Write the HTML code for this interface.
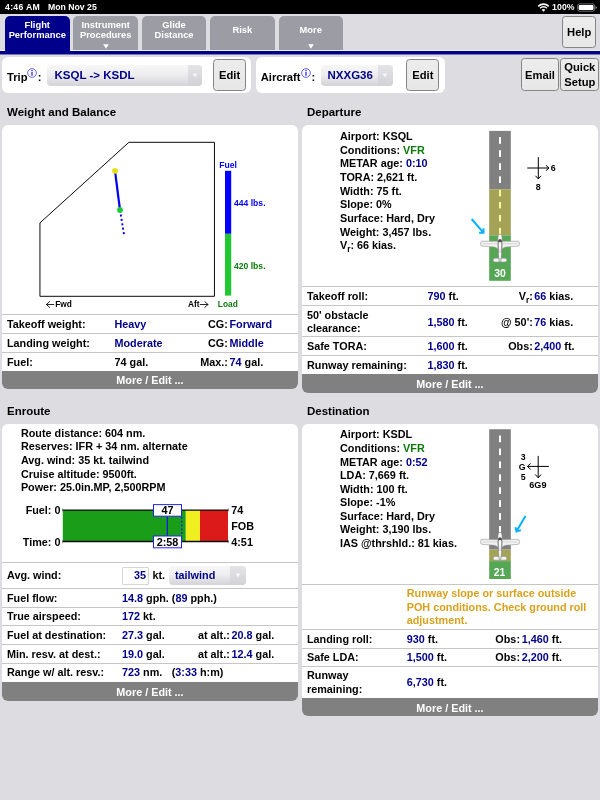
<!DOCTYPE html>
<html><head><meta charset="utf-8"><title>Flight Performance</title>
<style>
*{box-sizing:border-box;margin:0;padding:0}
html,body{width:600px;height:800px;overflow:hidden}
body{background:#dcdce1;font-family:"Liberation Sans",sans-serif;font-weight:bold;position:relative}
#app{position:absolute;left:0;top:0;width:600px;height:800px;will-change:transform}
.a{position:absolute}
.t{position:absolute;white-space:nowrap}
sub{font-size:76%;vertical-align:baseline;position:relative;top:2.6px}
svg{overflow:visible}
</style></head><body><div id="app">
<svg class="a" style="left:0;top:0" width="600" height="60"><rect x="0" y="0" width="600" height="14" fill="#000"/><rect x="0" y="51" width="600" height="3.450" fill="#00008b"/></svg>
<div class="t" style="top:1px;font-size:8.7px;line-height:12px;color:#fff;left:5px;letter-spacing:0.3px">4:46 AM</div>
<div class="t" style="top:1px;font-size:8.7px;line-height:12px;color:#fff;left:48px;">Mon Nov 25</div>
<div class="t" style="top:1px;font-size:8.7px;line-height:12px;color:#fff;left:552px;letter-spacing:0.12px">100%</div>
<svg class="a" style="left:536px;top:0" width="64" height="14" viewBox="536 0 64 14">
<clipPath id="wf"><path d="M543.500 11.700L535 3L552 3Z"/></clipPath>
<g clip-path="url(#wf)" fill="none" stroke="#fff"><circle cx="543.500" cy="11.200" r="7.100" stroke-width="1.600"/><circle cx="543.500" cy="11.200" r="4.450" stroke-width="1.450"/><circle cx="543.500" cy="11.200" r="2.200" fill="#fff" stroke="none"/></g>
<rect x="577.6" y="3.9" width="17" height="7.3" rx="2" fill="none" stroke="#9a9a9a" stroke-width="0.7"/>
<rect x="578.7" y="5" width="14.8" height="5.1" rx="1" fill="#fff"/>
<path d="M595.5 6.2 q1.4 .2 1.4 1.35 q0 1.15 -1.4 1.35z" fill="#9a9a9a"/>
</svg>
<div class="a" style="left:5.0px;top:16px;width:64.5px;height:35px;background:#00008b;border-radius:5px 5px 0 0"></div>
<div class="t" style="top:19px;font-size:9.375px;line-height:13px;color:#fff;left:-62.75px;width:200px;text-align:center;">Flight</div>
<div class="t" style="top:29px;font-size:9.375px;line-height:13px;color:#fff;left:-62.75px;width:200px;text-align:center;">Performance</div>
<div class="a" style="left:73.4px;top:16px;width:64.5px;height:34px;background:#9c9ca4;border-radius:5px 5px 0 0"></div>
<div class="t" style="top:19px;font-size:9.375px;line-height:13px;color:#fff;left:5.650000000000006px;width:200px;text-align:center;">Instrument</div>
<div class="t" style="top:29px;font-size:9.375px;line-height:13px;color:#fff;left:5.650000000000006px;width:200px;text-align:center;">Procedures</div>
<svg class="a" style="left:101.65px;top:43px" width="8" height="7"><path d="M1.2 1.2h5.6L4 5.8z" fill="#fff"/></svg>
<div class="a" style="left:141.8px;top:16px;width:64.5px;height:34px;background:#9c9ca4;border-radius:5px 5px 0 0"></div>
<div class="t" style="top:19px;font-size:9.375px;line-height:13px;color:#fff;left:74.05000000000001px;width:200px;text-align:center;">Glide</div>
<div class="t" style="top:29px;font-size:9.375px;line-height:13px;color:#fff;left:74.05000000000001px;width:200px;text-align:center;">Distance</div>
<div class="a" style="left:210.1px;top:16px;width:64.5px;height:34px;background:#9c9ca4;border-radius:5px 5px 0 0"></div>
<div class="t" style="top:24px;font-size:9.375px;line-height:13px;color:#fff;left:142.35px;width:200px;text-align:center;">Risk</div>
<div class="a" style="left:278.5px;top:16px;width:64.5px;height:34px;background:#9c9ca4;border-radius:5px 5px 0 0"></div>
<div class="t" style="top:24px;font-size:9.375px;line-height:13px;color:#fff;left:210.75px;width:200px;text-align:center;">More</div>
<svg class="a" style="left:306.75px;top:43px" width="8" height="7"><path d="M1.2 1.2h5.6L4 5.8z" fill="#fff"/></svg>
<div class="a" style="left:0px;top:50px;width:5px;height:1px;background:#f0f0ea"></div>
<div class="a" style="left:69.5px;top:50px;width:530.5px;height:1px;background:#f0f0ea"></div>
<div class="a" style="left:562px;top:16px;width:34px;height:32px;background:linear-gradient(#ececec,#e7e7e7);border:1px solid #848484;border-radius:3.5px"></div>
<div class="t" style="top:25px;font-size:11.2px;line-height:15px;color:#000;left:479.20000000000005px;width:200px;text-align:center;">Help</div>
<div class="a" style="left:2px;top:57px;width:249px;height:36px;background:#fff;border-radius:6px"></div>
<div class="a" style="left:256px;top:57px;width:189px;height:36px;background:#fff;border-radius:6px"></div>
<div class="t" style="top:70px;font-size:11.2px;line-height:15px;color:#000;left:7px;">Trip</div>
<div class="t" style="top:70px;font-size:11.2px;line-height:15px;color:#000;left:37.8px;">:</div>
<div class="t" style="top:70px;font-size:11.2px;line-height:15px;color:#000;left:260.75px;">Aircraft</div>
<div class="t" style="top:70px;font-size:11.2px;line-height:15px;color:#000;left:311.5px;">:</div>
<svg class="a" style="left:26.299999999999997px;top:67.2px" width="12" height="12" viewBox="-6 -6 12 12"><circle r="4.35" fill="#fff" stroke="#4848ff" stroke-width="0.85"/><circle cx="0" cy="-2.6" r="0.75" fill="#2a2aff"/><rect x="-0.65" y="-1.2" width="1.3" height="3.9" fill="#2a2aff"/></svg>
<svg class="a" style="left:300.1px;top:67.2px" width="12" height="12" viewBox="-6 -6 12 12"><circle r="4.35" fill="#fff" stroke="#4848ff" stroke-width="0.85"/><circle cx="0" cy="-2.6" r="0.75" fill="#2a2aff"/><rect x="-0.65" y="-1.2" width="1.3" height="3.9" fill="#2a2aff"/></svg>
<div class="a" style="left:47.4px;top:65px;width:154.4px;height:20.5px;background:linear-gradient(#f7f7f8,#eeeef0 45%,#d4d4d8);border-radius:4px"></div>
<div class="a" style="left:187.5px;top:65px;width:14.300000000000011px;height:20.5px;background:linear-gradient(#e4e4e7,#d2d2d6);border-radius:0 4px 4px 0"></div>
<svg class="a" style="left:190.65px;top:72.05px" width="8" height="7"><path d="M1.400 1.600h5.200L4 5.600z" fill="#f6f6f8"/></svg>
<div class="t" style="top:68px;font-size:11.5px;line-height:15px;color:#00008b;left:54.5px;">KSQL -&gt; KSDL</div>
<div class="a" style="left:321px;top:65px;width:71.5px;height:20.5px;background:linear-gradient(#f7f7f8,#eeeef0 45%,#d4d4d8);border-radius:4px"></div>
<div class="a" style="left:378px;top:65px;width:14.5px;height:20.5px;background:linear-gradient(#e4e4e7,#d2d2d6);border-radius:0 4px 4px 0"></div>
<svg class="a" style="left:381.25px;top:72.05px" width="8" height="7"><path d="M1.400 1.600h5.200L4 5.600z" fill="#f6f6f8"/></svg>
<div class="t" style="top:68px;font-size:11.5px;line-height:15px;color:#00008b;left:327.5px;">NXXG36</div>
<div class="a" style="left:213px;top:59px;width:33px;height:32px;background:linear-gradient(#ececec,#e7e7e7);border:1px solid #848484;border-radius:3.5px"></div>
<div class="t" style="top:68px;font-size:11.2px;line-height:15px;color:#000;left:129.6px;width:200px;text-align:center;">Edit</div>
<div class="a" style="left:406px;top:59px;width:33px;height:32px;background:linear-gradient(#ececec,#e7e7e7);border:1px solid #848484;border-radius:3.5px"></div>
<div class="t" style="top:68px;font-size:11.2px;line-height:15px;color:#000;left:322.9px;width:200px;text-align:center;">Edit</div>
<div class="a" style="left:521px;top:58px;width:38px;height:33px;background:linear-gradient(#ececec,#e7e7e7);border:1px solid #848484;border-radius:3.5px"></div>
<div class="t" style="top:68px;font-size:11.2px;line-height:15px;color:#000;left:440px;width:200px;text-align:center;">Email</div>
<div class="a" style="left:560px;top:58px;width:39px;height:33px;background:linear-gradient(#ececec,#e7e7e7);border:1px solid #848484;border-radius:3.5px"></div>
<div class="t" style="top:60px;font-size:11.2px;line-height:15px;color:#000;left:479.79999999999995px;width:200px;text-align:center;">Quick</div>
<div class="t" style="top:75px;font-size:11.2px;line-height:15px;color:#000;left:479.79999999999995px;width:200px;text-align:center;">Setup</div>
<div class="t" style="top:105px;font-size:11.5px;line-height:15px;color:#000;left:7px;">Weight and Balance</div>
<div class="a" style="left:2px;top:125px;width:296px;height:264px;background:#fff;border-radius:6px"></div>
<svg class="a" style="left:0;top:120px" width="300" height="200" viewBox="0 120 300 200">
<path d="M39.950 222.900 L128.900 142.300 L214.450 142.300 L214.450 296.300 L39.950 296.300 Z" fill="none" stroke="#0a0a0a" stroke-width="1" stroke-linejoin="miter"/>
<line x1="115" y1="170.8" x2="120" y2="210" stroke="#0000f0" stroke-width="2.2"/>
<line x1="120.750" y1="214.500" x2="124.050" y2="234.600" stroke="#0000f0" stroke-width="1.9" stroke-dasharray="2 2.45"/>
<circle cx="115" cy="170.8" r="2.9" fill="#e6e010"/>
<circle cx="120" cy="210" r="2.9" fill="#22c83a"/>
<rect x="225" y="170.8" width="6.2" height="63" fill="#0000ff"/>
<rect x="225" y="233.8" width="6.2" height="61.8" fill="#22c832"/>
</svg>
<div class="t" style="top:159px;font-size:8.6px;line-height:12px;color:#0000ff;left:219.3px;">Fuel</div>
<div class="t" style="top:197px;font-size:8.6px;line-height:12px;color:#0000ff;left:234px;">444 lbs.</div>
<div class="t" style="top:260px;font-size:8.6px;line-height:12px;color:#0b7a0b;left:234px;">420 lbs.</div>
<div class="t" style="top:299px;font-size:8.4px;line-height:11px;color:#0b7a0b;left:217.8px;">Load</div>
<div class="t" style="top:299px;font-size:8.3px;line-height:11px;color:#000;left:55.3px;">Fwd</div>
<div class="t" style="top:299px;font-size:8.3px;line-height:11px;color:#000;left:188px;">Aft</div>
<svg class="a" style="left:40px;top:298px" width="180" height="14" viewBox="40 298 180 14"><g fill="none" stroke="#111" stroke-width="0.9" stroke-linecap="round" stroke-linejoin="round"><path d="M46.4 304.500H53.800M49.600 301.600L46.400 304.500L49.600 307.400"/><path d="M200.200 304.500H208M204.800 301.600L208 304.500L204.800 307.400"/></g></svg>
<div class="a" style="left:2px;top:314px;width:296px;height:1px;background:#c6c6c6"></div>
<div class="a" style="left:2px;top:333px;width:296px;height:1px;background:#c6c6c6"></div>
<div class="a" style="left:2px;top:352px;width:296px;height:1px;background:#c6c6c6"></div>
<div class="t" style="top:317px;font-size:10.82px;line-height:15px;color:#000;left:7px;">Takeoff weight:</div>
<div class="t" style="top:317px;font-size:10.82px;line-height:15px;color:#00008b;left:114.5px;">Heavy</div>
<div class="t" style="top:317px;font-size:10.82px;line-height:15px;color:#000;right:372.20px;">CG:</div>
<div class="t" style="top:317px;font-size:10.82px;line-height:15px;color:#00008b;left:229.5px;">Forward</div>
<div class="t" style="top:336px;font-size:10.82px;line-height:15px;color:#000;left:7px;">Landing weight:</div>
<div class="t" style="top:336px;font-size:10.82px;line-height:15px;color:#00008b;left:114.5px;">Moderate</div>
<div class="t" style="top:336px;font-size:10.82px;line-height:15px;color:#000;right:372.20px;">CG:</div>
<div class="t" style="top:336px;font-size:10.82px;line-height:15px;color:#00008b;left:229.5px;">Middle</div>
<div class="t" style="top:355px;font-size:10.82px;line-height:15px;color:#000;left:7px;">Fuel:</div>
<div class="t" style="top:355px;font-size:10.82px;line-height:15px;color:#000;left:114.5px;">74 gal.</div>
<div class="t" style="top:355px;font-size:10.82px;line-height:15px;color:#000;right:372.20px;">Max.:</div>
<div class="t" style="top:355px;font-size:10.82px;line-height:15px;color:#000;left:229.5px;"><span style="color:#00008b">74</span> gal.</div>
<div class="a" style="left:2px;top:371px;width:296px;height:18px;background:#808080;border-radius:0 0 6px 6px"></div>
<div class="t" style="top:373px;font-size:10.82px;line-height:15px;color:#fff;left:50.0px;width:200px;text-align:center;">More / Edit ...</div>
<div class="t" style="top:105px;font-size:11.5px;line-height:15px;color:#000;left:307px;">Departure</div>
<div class="a" style="left:302px;top:125px;width:296px;height:268px;background:#fff;border-radius:6px"></div>
<div class="t" style="top:129px;font-size:10.82px;line-height:15px;color:#000;left:340px;">Airport: KSQL</div>
<div class="t" style="top:143px;font-size:10.82px;line-height:15px;color:#000;left:340px;">Conditions: <span style="color:#0b7a0b">VFR</span></div>
<div class="t" style="top:156px;font-size:10.82px;line-height:15px;color:#000;left:340px;">METAR age: <span style="color:#00008b">0:10</span></div>
<div class="t" style="top:170px;font-size:10.82px;line-height:15px;color:#000;left:340px;">TORA: 2,621 ft.</div>
<div class="t" style="top:184px;font-size:10.82px;line-height:15px;color:#000;left:340px;">Width: 75 ft.</div>
<div class="t" style="top:197px;font-size:10.82px;line-height:15px;color:#000;left:340px;">Slope: 0%</div>
<div class="t" style="top:211px;font-size:10.82px;line-height:15px;color:#000;left:340px;">Surface: Hard, Dry</div>
<div class="t" style="top:225px;font-size:10.82px;line-height:15px;color:#000;left:340px;">Weight: 3,457 lbs.</div>
<div class="t" style="top:238px;font-size:10.82px;line-height:15px;color:#000;left:340px;">V<sub>r</sub>: 66 kias.</div>
<div class="a" style="left:302px;top:286px;width:296px;height:1px;background:#c6c6c6"></div>
<div class="a" style="left:302px;top:305px;width:296px;height:1px;background:#c6c6c6"></div>
<div class="a" style="left:302px;top:336px;width:296px;height:1px;background:#c6c6c6"></div>
<div class="a" style="left:302px;top:355px;width:296px;height:1px;background:#c6c6c6"></div>
<div class="t" style="top:289px;font-size:10.82px;line-height:15px;color:#000;left:307px;">Takeoff roll:</div>
<div class="t" style="top:289px;font-size:10.82px;line-height:15px;color:#000;left:427.5px;"><span style="color:#00008b">790</span> ft.</div>
<div class="t" style="top:289px;font-size:10.82px;line-height:15px;color:#000;right:67.20px;">V<sub>r</sub>:</div>
<div class="t" style="top:289px;font-size:10.82px;line-height:15px;color:#000;left:534.25px;"><span style="color:#00008b">66</span> kias.</div>
<div class="t" style="top:308px;font-size:10.82px;line-height:15px;color:#000;left:307px;">50' obstacle</div>
<div class="t" style="top:321px;font-size:10.82px;line-height:15px;color:#000;left:307px;">clearance:</div>
<div class="t" style="top:315px;font-size:10.82px;line-height:15px;color:#000;left:427.5px;"><span style="color:#00008b">1,580</span> ft.</div>
<div class="t" style="top:315px;font-size:10.82px;line-height:15px;color:#000;right:67.20px;">@ 50':</div>
<div class="t" style="top:315px;font-size:10.82px;line-height:15px;color:#000;left:534.25px;"><span style="color:#00008b">76</span> kias.</div>
<div class="t" style="top:339px;font-size:10.82px;line-height:15px;color:#000;left:307px;">Safe TORA:</div>
<div class="t" style="top:339px;font-size:10.82px;line-height:15px;color:#000;left:427.5px;"><span style="color:#00008b">1,600</span> ft.</div>
<div class="t" style="top:339px;font-size:10.82px;line-height:15px;color:#000;right:67.20px;">Obs:</div>
<div class="t" style="top:339px;font-size:10.82px;line-height:15px;color:#000;left:534.25px;"><span style="color:#00008b">2,400</span> ft.</div>
<div class="t" style="top:358px;font-size:10.82px;line-height:15px;color:#000;left:307px;">Runway remaining:</div>
<div class="t" style="top:358px;font-size:10.82px;line-height:15px;color:#000;left:427.5px;"><span style="color:#00008b">1,830</span> ft.</div>
<div class="a" style="left:302px;top:374px;width:296px;height:19px;background:#808080;border-radius:0 0 6px 6px"></div>
<div class="t" style="top:377px;font-size:10.82px;line-height:15px;color:#fff;left:350.0px;width:200px;text-align:center;">More / Edit ...</div>
<svg width="0" height="0" style="position:absolute"><defs>
<g id="plane">
<path d="M-18.200 7.400H18.200Q19.300 7.400 19.300 8.600V11Q19.300 12.200 18 12.300L6 13.300Q3.500 13.700 2.200 15.100H-2.200Q-3.500 13.700 -6 13.300L-18 12.300Q-19.300 12.200 -19.300 11V8.600Q-19.300 7.400 -18.200 7.400Z" fill="#f1f1f1" stroke="#8e8e8e" stroke-width=".55"/>
<path d="M-17.500 9.800H17.500" stroke="#dcdcdc" stroke-width="1.2"/>
<rect x="-6.800" y="24.400" width="13.600" height="3.800" rx="1.700" fill="#f3f3f3" stroke="#8e8e8e" stroke-width=".55"/>
<path d="M0 0.200C1.400 0.200 2.100 2 2.150 5L2.150 13L0.900 27.600Q0 28.400 -0.900 27.600L-2.150 13L-2.150 5C-2.100 2 -1.400 0.200 0 0.200Z" fill="#f8f8f8" stroke="#7a7a7a" stroke-width=".55"/>
<path d="M-2 7.900Q-2.100 5.300 0 5.300Q2.100 5.300 2 7.900L1.900 9Q0 7.200 -1.900 9Z" fill="#4c4c4c"/>
<path d="M-1.750 9L-1.150 19M1.750 9L1.150 19" stroke="#6a6a6a" stroke-width=".6" fill="none"/>
<path d="M0 24.400V28" stroke="#9a9a9a" stroke-width=".7"/>
</g></defs></svg>
<svg class="a" style="left:460px;top:125px" width="140" height="161" viewBox="460 125 140 161"><rect x="489.2" y="130.9" width="21.6" height="58.400000000000006" fill="#808080"/><rect x="489.2" y="189.3" width="21.6" height="46.099999999999994" fill="#a3a256"/><rect x="489.2" y="235.4" width="21.6" height="45.400000000000006" fill="#55a655"/><rect x="499" y="137.1" width="2" height="6.7" fill="#fff"/><rect x="499" y="150.2" width="2" height="6.7" fill="#fff"/><rect x="499" y="163.2" width="2" height="6.7" fill="#fff"/><rect x="499" y="176.3" width="2" height="6.7" fill="#fff"/><rect x="499" y="189.9" width="2" height="6.4" fill="#f8f8a0"/><rect x="499" y="202.0" width="2" height="6.4" fill="#f8f8a0"/><rect x="499" y="215.0" width="2" height="6.4" fill="#f8f8a0"/><rect x="499" y="227.9" width="2" height="6.4" fill="#f8f8a0"/><use href="#plane" transform="translate(500 233.8)"/><g stroke="#06b0ff" stroke-width="2" fill="none" stroke-linecap="butt" stroke-linejoin="miter"><path d="M471.600 219 L483 232.200"/><path d="M483.500 228.200 V232.700 H479.100"/></g><g stroke="#000" stroke-width="1" fill="none"><path d="M538.300 157.100V178.700M535.500 175.800L538.300 178.900L541.100 175.800"/><path d="M527.300 168H548.700M545.900 165.300L549 168L545.900 170.700"/></g></svg>
<div class="t" style="top:267px;font-size:10.4px;line-height:14px;color:#fff;left:400px;width:200px;text-align:center;">30</div>
<div class="t" style="top:162px;font-size:8.8px;line-height:12px;color:#000;left:550.7px;">6</div>
<div class="t" style="top:181px;font-size:8.8px;line-height:12px;color:#000;left:438.29999999999995px;width:200px;text-align:center;">8</div>
<div class="t" style="top:404px;font-size:11.5px;line-height:15px;color:#000;left:7px;">Enroute</div>
<div class="a" style="left:2px;top:424px;width:296px;height:277px;background:#fff;border-radius:6px"></div>
<div class="t" style="top:426px;font-size:10.82px;line-height:15px;color:#000;left:20.9px;">Route distance: 604 nm.</div>
<div class="t" style="top:439px;font-size:10.82px;line-height:15px;color:#000;left:20.9px;">Reserves: IFR + 34 nm. alternate</div>
<div class="t" style="top:453px;font-size:10.82px;line-height:15px;color:#000;left:20.9px;">Avg. wind: 35 kt. tailwind</div>
<div class="t" style="top:467px;font-size:10.82px;line-height:15px;color:#000;left:20.9px;">Cruise altitude: 9500ft.</div>
<div class="t" style="top:480px;font-size:10.82px;line-height:15px;color:#000;left:20.9px;">Power: 25.0in.MP, 2,500RPM</div>
<svg class="a" style="left:50px;top:500px" width="200" height="55" viewBox="50 500 200 55">
<rect x="62.800" y="510" width="123" height="31.500" fill="#1a9e1a"/>
<rect x="185.800" y="510" width="14.200" height="31.500" fill="#f0f020"/>
<rect x="200" y="510" width="28" height="31.500" fill="#dc1a1a"/>
<path d="M62.300 510.200H228.600M62.300 541.500H228.600" stroke="#0a0a0a" stroke-width="1.3"/><path d="M62.500 508.300V511.500M62.500 540V543.300M228.500 508.300V511.500M228.500 540V543.300" stroke="#777" stroke-width="0.6"/>
<line x1="167.300" y1="516" x2="167.300" y2="536" stroke="#1414ee" stroke-width="1.2"/>
<line x1="181.800" y1="517" x2="181.800" y2="536" stroke="#1414ee" stroke-width="1.300" stroke-dasharray="1.800 2"/>
<rect x="153.500" y="504.600" width="28" height="11.600" fill="#fff" stroke="#2424f0" stroke-width="1"/>
<rect x="153.500" y="536" width="28" height="11.800" fill="#fff" stroke="#2424f0" stroke-width="1"/>
</svg>
<div class="t" style="top:503px;font-size:10.82px;line-height:15px;color:#000;right:539.50px;">Fuel: 0</div>
<div class="t" style="top:535px;font-size:10.82px;line-height:15px;color:#000;right:539.50px;">Time: 0</div>
<div class="t" style="top:503px;font-size:10.82px;line-height:15px;color:#000;left:67.5px;width:200px;text-align:center;">47</div>
<div class="t" style="top:535px;font-size:10.82px;line-height:15px;color:#000;left:67.5px;width:200px;text-align:center;">2:58</div>
<div class="t" style="top:503px;font-size:10.82px;line-height:15px;color:#000;left:231.25px;">74</div>
<div class="t" style="top:519px;font-size:10.82px;line-height:15px;color:#000;left:231.25px;">FOB</div>
<div class="t" style="top:535px;font-size:10.82px;line-height:15px;color:#000;left:231.25px;">4:51</div>
<div class="a" style="left:2px;top:562px;width:296px;height:1px;background:#c6c6c6"></div>
<div class="a" style="left:2px;top:588px;width:296px;height:1px;background:#c6c6c6"></div>
<div class="a" style="left:2px;top:607px;width:296px;height:1px;background:#c6c6c6"></div>
<div class="a" style="left:2px;top:625px;width:296px;height:1px;background:#c6c6c6"></div>
<div class="a" style="left:2px;top:644px;width:296px;height:1px;background:#c6c6c6"></div>
<div class="a" style="left:2px;top:663px;width:296px;height:1px;background:#c6c6c6"></div>
<div class="t" style="top:568px;font-size:10.82px;line-height:15px;color:#000;left:7px;">Avg. wind:</div>
<div class="a" style="left:122px;top:567px;width:27px;height:17.5px;background:#fff;border:1px solid #d6d6d6;border-radius:1px"></div>
<div class="t" style="top:568px;font-size:10.82px;line-height:15px;color:#00008b;right:454.00px;">35</div>
<div class="t" style="top:568px;font-size:10.82px;line-height:15px;color:#000;left:152.5px;">kt.</div>
<div class="a" style="left:169px;top:566.25px;width:76.5px;height:18.75px;background:linear-gradient(#f7f7f8,#eeeef0 45%,#d4d4d8);border-radius:4px"></div>
<div class="a" style="left:230px;top:566.25px;width:15.5px;height:18.75px;background:linear-gradient(#e4e4e7,#d2d2d6);border-radius:0 4px 4px 0"></div>
<svg class="a" style="left:233.75px;top:572.425px" width="8" height="7"><path d="M1.400 1.600h5.200L4 5.600z" fill="#f6f6f8"/></svg>
<div class="t" style="top:568px;font-size:10.82px;line-height:15px;color:#00008b;left:175px;">tailwind</div>
<div class="t" style="top:591px;font-size:10.82px;line-height:15px;color:#000;left:7px;">Fuel flow:</div>
<div class="t" style="top:591px;font-size:10.82px;line-height:15px;color:#000;left:122px;"><span style="color:#00008b">14.8</span> gph. (<span style="color:#00008b">89</span> pph.)</div>
<div class="t" style="top:609px;font-size:10.82px;line-height:15px;color:#000;left:7px;">True airspeed:</div>
<div class="t" style="top:609px;font-size:10.82px;line-height:15px;color:#000;left:122px;"><span style="color:#00008b">172</span> kt.</div>
<div class="t" style="top:628px;font-size:10.82px;line-height:15px;color:#000;left:7px;">Fuel at destination:</div>
<div class="t" style="top:628px;font-size:10.82px;line-height:15px;color:#000;left:122px;"><span style="color:#00008b">27.3</span> gal.</div>
<div class="t" style="top:628px;font-size:10.82px;line-height:15px;color:#000;right:370.20px;">at alt.:</div>
<div class="t" style="top:628px;font-size:10.82px;line-height:15px;color:#000;left:231.5px;"><span style="color:#00008b">20.8</span> gal.</div>
<div class="t" style="top:647px;font-size:10.82px;line-height:15px;color:#000;left:7px;">Min. resv. at dest.:</div>
<div class="t" style="top:647px;font-size:10.82px;line-height:15px;color:#000;left:122px;"><span style="color:#00008b">19.0</span> gal.</div>
<div class="t" style="top:647px;font-size:10.82px;line-height:15px;color:#000;right:370.20px;">at alt.:</div>
<div class="t" style="top:647px;font-size:10.82px;line-height:15px;color:#000;left:231.5px;"><span style="color:#00008b">12.4</span> gal.</div>
<div class="t" style="top:665px;font-size:10.82px;line-height:15px;color:#000;left:7px;">Range w/ alt. resv.:</div>
<div class="t" style="top:665px;font-size:10.82px;line-height:15px;color:#000;left:122px;"><span style="color:#00008b">723</span> nm.</div>
<div class="t" style="top:665px;font-size:10.82px;line-height:15px;color:#000;left:171.75px;">(<span style="color:#00008b">3:33</span> h:m)</div>
<div class="a" style="left:2px;top:682px;width:296px;height:19px;background:#808080;border-radius:0 0 6px 6px"></div>
<div class="t" style="top:685px;font-size:10.82px;line-height:15px;color:#fff;left:50.0px;width:200px;text-align:center;">More / Edit ...</div>
<div class="t" style="top:404px;font-size:11.5px;line-height:15px;color:#000;left:307px;">Destination</div>
<div class="a" style="left:302px;top:424px;width:296px;height:292px;background:#fff;border-radius:6px"></div>
<div class="t" style="top:427px;font-size:10.82px;line-height:15px;color:#000;left:340px;">Airport: KSDL</div>
<div class="t" style="top:441px;font-size:10.82px;line-height:15px;color:#000;left:340px;">Conditions: <span style="color:#0b7a0b">VFR</span></div>
<div class="t" style="top:455px;font-size:10.82px;line-height:15px;color:#000;left:340px;">METAR age: <span style="color:#00008b">0:52</span></div>
<div class="t" style="top:468px;font-size:10.82px;line-height:15px;color:#000;left:340px;">LDA: 7,669 ft.</div>
<div class="t" style="top:482px;font-size:10.82px;line-height:15px;color:#000;left:340px;">Width: 100 ft.</div>
<div class="t" style="top:495px;font-size:10.82px;line-height:15px;color:#000;left:340px;">Slope: -1%</div>
<div class="t" style="top:509px;font-size:10.82px;line-height:15px;color:#000;left:340px;">Surface: Hard, Dry</div>
<div class="t" style="top:522px;font-size:10.82px;line-height:15px;color:#000;left:340px;">Weight: 3,190 lbs.</div>
<div class="t" style="top:536px;font-size:10.82px;line-height:15px;color:#000;left:340px;">IAS @thrshld.: 81 kias.</div>
<svg class="a" style="left:460px;top:424px" width="140" height="161" viewBox="460 424 140 161"><rect x="489.2" y="429.25" width="21.6" height="120.35000000000002" fill="#808080"/><rect x="489.2" y="549.6" width="21.6" height="11.5" fill="#a3a256"/><rect x="489.2" y="561.1" width="21.6" height="17.899999999999977" fill="#55a655"/><rect x="499" y="435.55" width="2" height="6.7" fill="#fff"/><rect x="499" y="448.48" width="2" height="6.7" fill="#fff"/><rect x="499" y="461.41" width="2" height="6.7" fill="#fff"/><rect x="499" y="474.34" width="2" height="6.7" fill="#fff"/><rect x="499" y="487.27" width="2" height="6.7" fill="#fff"/><rect x="499" y="500.2" width="2" height="6.7" fill="#fff"/><rect x="499" y="513.13" width="2" height="6.7" fill="#fff"/><rect x="499" y="526.06" width="2" height="6.7" fill="#fff"/><use href="#plane" transform="translate(500 532)"/><g stroke="#06b0ff" stroke-width="2" fill="none" stroke-linecap="butt" stroke-linejoin="miter"><path d="M525.500 516.100 L516.800 530.800"/><path d="M515.500 527.300 L516.500 531.500 L520.900 530.100"/></g><g stroke="#000" stroke-width="1" fill="none"><path d="M538.200 455.900V477.600M535.300 474.500L538.200 477.800L541.100 474.500"/><path d="M548.800 466.400H527.600M530.600 463.500L527.400 466.400L530.600 469.300"/></g></svg>
<div class="t" style="top:566px;font-size:10.4px;line-height:14px;color:#fff;left:399.6px;width:200px;text-align:center;">21</div>
<div class="t" style="top:451px;font-size:8.8px;line-height:12px;color:#000;right:74.30px;">3</div>
<div class="t" style="top:461px;font-size:8.8px;line-height:12px;color:#000;right:74.30px;">G</div>
<div class="t" style="top:471px;font-size:8.8px;line-height:12px;color:#000;right:74.30px;">5</div>
<div class="t" style="top:479px;font-size:9.1px;line-height:12px;color:#000;left:437.9px;width:200px;text-align:center;">6G9</div>
<div class="a" style="left:302px;top:584px;width:296px;height:1px;background:#c6c6c6"></div>
<div class="a" style="left:302px;top:629px;width:296px;height:1px;background:#c6c6c6"></div>
<div class="a" style="left:302px;top:648px;width:296px;height:1px;background:#c6c6c6"></div>
<div class="a" style="left:302px;top:666px;width:296px;height:1px;background:#c6c6c6"></div>
<div class="t" style="top:586px;font-size:10.82px;line-height:15px;color:#d9a11c;left:406.75px;">Runway slope or surface outside</div>
<div class="t" style="top:600px;font-size:10.82px;line-height:15px;color:#d9a11c;left:406.75px;">POH conditions. Check ground roll</div>
<div class="t" style="top:613px;font-size:10.82px;line-height:15px;color:#d9a11c;left:406.75px;">adjustment.</div>
<div class="t" style="top:632px;font-size:10.82px;line-height:15px;color:#000;left:307px;">Landing roll:</div>
<div class="t" style="top:632px;font-size:10.82px;line-height:15px;color:#000;left:406.75px;"><span style="color:#00008b">930</span> ft.</div>
<div class="t" style="top:632px;font-size:10.82px;line-height:15px;color:#000;right:80.00px;">Obs:</div>
<div class="t" style="top:632px;font-size:10.82px;line-height:15px;color:#000;left:521.75px;"><span style="color:#00008b">1,460</span> ft.</div>
<div class="t" style="top:650px;font-size:10.82px;line-height:15px;color:#000;left:307px;">Safe LDA:</div>
<div class="t" style="top:650px;font-size:10.82px;line-height:15px;color:#000;left:406.75px;"><span style="color:#00008b">1,500</span> ft.</div>
<div class="t" style="top:650px;font-size:10.82px;line-height:15px;color:#000;right:80.00px;">Obs:</div>
<div class="t" style="top:650px;font-size:10.82px;line-height:15px;color:#000;left:521.75px;"><span style="color:#00008b">2,200</span> ft.</div>
<div class="t" style="top:668px;font-size:10.82px;line-height:15px;color:#000;left:307px;">Runway</div>
<div class="t" style="top:682px;font-size:10.82px;line-height:15px;color:#000;left:307px;">remaining:</div>
<div class="t" style="top:675px;font-size:10.82px;line-height:15px;color:#000;left:406.75px;"><span style="color:#00008b">6,730</span> ft.</div>
<div class="a" style="left:302px;top:698px;width:296px;height:18px;background:#808080;border-radius:0 0 6px 6px"></div>
<div class="t" style="top:701px;font-size:10.82px;line-height:15px;color:#fff;left:350.0px;width:200px;text-align:center;">More / Edit ...</div>
</div></body></html>
